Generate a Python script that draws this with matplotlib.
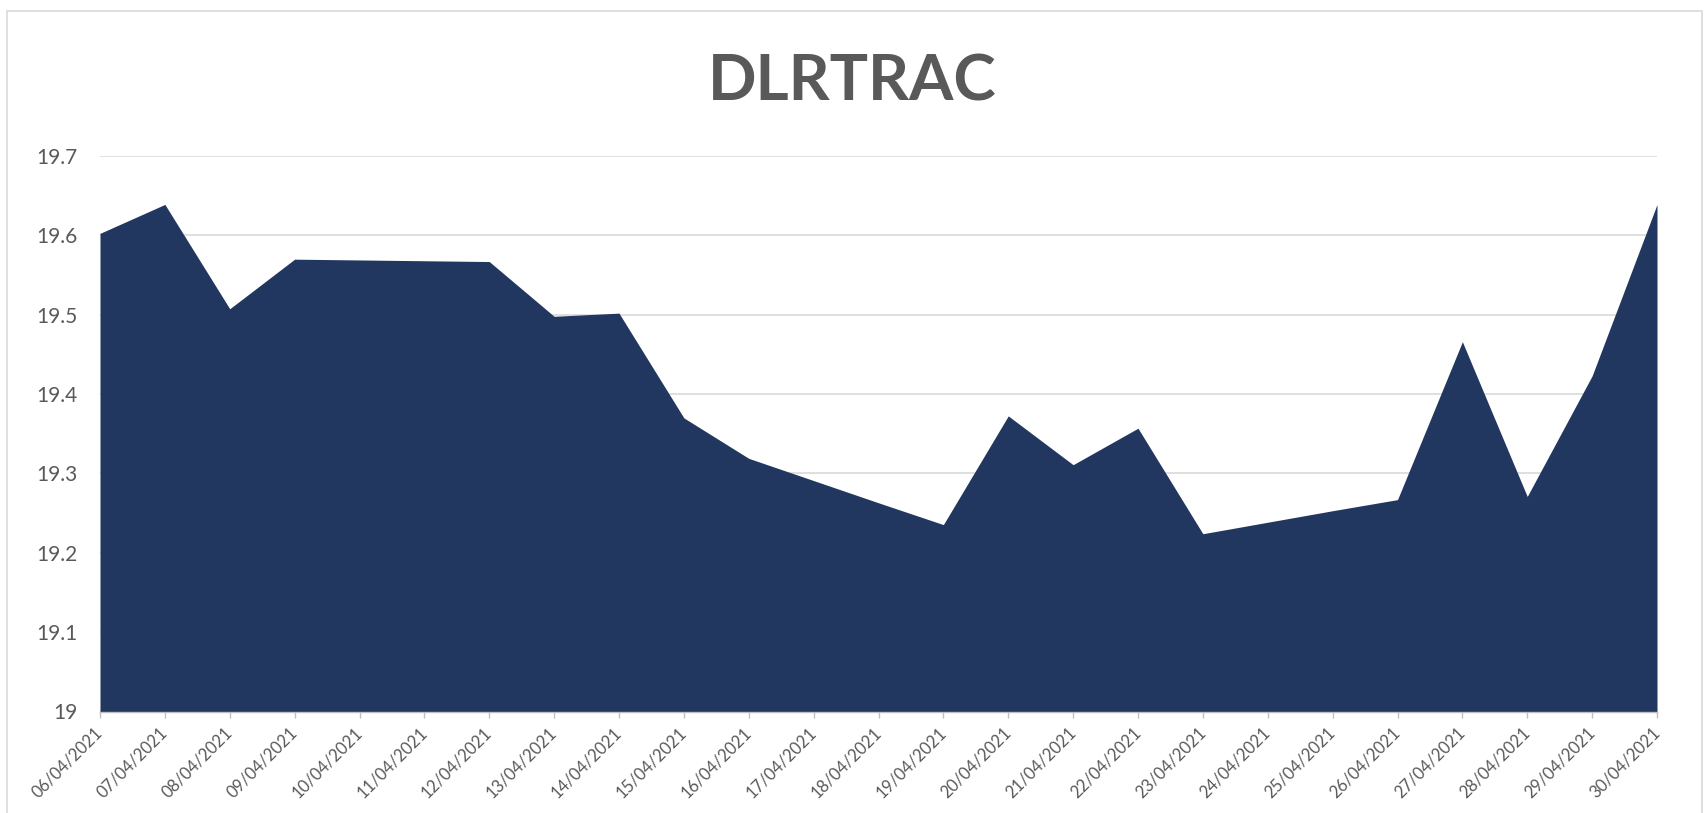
import matplotlib
matplotlib.use("Agg")
import matplotlib.pyplot as plt
from matplotlib.patches import Rectangle

dates = ["06/04/2021", "07/04/2021", "08/04/2021", "09/04/2021", "10/04/2021",
         "11/04/2021", "12/04/2021", "13/04/2021", "14/04/2021", "15/04/2021",
         "16/04/2021", "17/04/2021", "18/04/2021", "19/04/2021", "20/04/2021",
         "21/04/2021", "22/04/2021", "23/04/2021", "24/04/2021", "25/04/2021",
         "26/04/2021", "27/04/2021", "28/04/2021", "29/04/2021", "30/04/2021"]
values = [19.6025, 19.639, 19.5075, 19.570, 19.569, 19.568, 19.567, 19.498,
          19.502, 19.370, 19.319, 19.291, 19.263, 19.2355, 19.3725, 19.311,
          19.357, 19.224, 19.2385, 19.253, 19.267, 19.466, 19.271, 19.423,
          19.639]
yticks = [19, 19.1, 19.2, 19.3, 19.4, 19.5, 19.6, 19.7]
ytick_labels = ["19", "19.1", "19.2", "19.3", "19.4", "19.5", "19.6", "19.7"]

plt.rcParams['font.family'] = ['Lato', 'DejaVu Sans']
txt = "#595959"

fig = plt.figure(figsize=(17.05, 8.13), dpi=100)
ax = fig.add_axes([100/1705, 1 - 711.5/813, 1557/1705, 555.5/813])

x = list(range(len(dates)))
ax.fill_between(x, 19, values, color="#21375F", linewidth=0, zorder=2)

ax.set_xlim(0, len(dates) - 1)
ax.set_ylim(19, 19.7)
ax.set_yticks(yticks)
ax.set_yticklabels(ytick_labels)
ax.set_xticks(x)
ax.set_xticklabels(dates, rotation=45, ha="right", va="center",
                   rotation_mode="anchor")

ax.yaxis.grid(True, color="#D9D9D9", linewidth=1.2, zorder=0)
ax.set_axisbelow(True)
for s in ["top", "right", "left"]:
    ax.spines[s].set_visible(False)
ax.spines["bottom"].set_color("#BFBFBF")
ax.spines["bottom"].set_linewidth(1.0)
ax.spines["bottom"].set_zorder(3)

ax.tick_params(axis="y", length=0, pad=16, labelsize=15, labelcolor=txt)
ax.tick_params(axis="x", length=4.5, width=1, color="#BFBFBF", pad=9,
               labelsize=12, labelcolor=txt)

fig.text(0.5, 1 - 82/813, "DLRTRAC", ha="center", va="center",
         fontsize=46, fontweight="bold", color=txt)

fig.patches.append(Rectangle((7/1705, -0.02), 1695/1705, 1 - 11/813 + 0.02,
                             transform=fig.transFigure, fill=False,
                             edgecolor="#D9D9D9", linewidth=1.2))

fig.savefig("out.png", dpi=100)
